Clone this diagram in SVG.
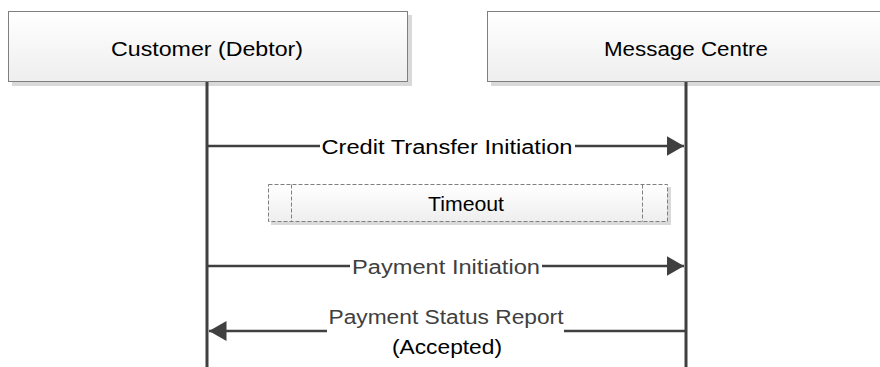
<svg xmlns="http://www.w3.org/2000/svg" width="880" height="367" viewBox="0 0 880 367">
<style>
.lbl{font-family:"Liberation Sans",Arial,sans-serif;text-anchor:middle;font-size:19.5px}
.box{stroke:#7f7f7f;stroke-width:1;fill:url(#g)}
.sh{fill:#d9d9d9}
.life{stroke:#404040;stroke-width:3;fill:none}
.msg{stroke:#404040;stroke-width:2.5;fill:none}
</style>
<defs>
<linearGradient id="g" x1="0" y1="0" x2="0" y2="1">
<stop offset="0" stop-color="#ffffff"/>
<stop offset="1" stop-color="#eeeeee"/>
</linearGradient>
<marker id="ah" markerWidth="8" markerHeight="8" refX="7" refY="4" orient="auto" markerUnits="strokeWidth">
<path d="M0,0 L7,4 L0,8 Z" fill="#404040"/>
</marker>
</defs>
<g id="node-customer">
<rect class="sh" x="12" y="15" width="400" height="71"/>
<rect class="box" x="8.5" y="11.5" width="399" height="70"/>
<text class="lbl" x="207" y="56" fill="#000" textLength="192" lengthAdjust="spacingAndGlyphs">Customer (Debtor)</text>
</g>
<g id="node-centre">
<rect class="sh" x="491" y="15" width="400" height="71"/>
<rect class="box" x="487.5" y="11.5" width="399" height="70"/>
<text class="lbl" x="686" y="56" fill="#000" textLength="164" lengthAdjust="spacingAndGlyphs">Message Centre</text>
</g>
<g id="node-timeout">
<rect class="sh" x="271" y="187" width="400" height="38"/>
<rect x="268.5" y="184.5" width="399" height="37" fill="url(#g)" stroke="#7f7f7f" stroke-dasharray="4,2"/>
<line x1="291.5" y1="184.5" x2="291.5" y2="221.5" stroke="#7f7f7f" stroke-dasharray="4,2"/>
<line x1="642.5" y1="184.5" x2="642.5" y2="221.5" stroke="#7f7f7f" stroke-dasharray="4,2"/>
<text class="lbl" x="466" y="211" fill="#000" textLength="76" lengthAdjust="spacingAndGlyphs">Timeout</text>
</g>
<g id="connectors">
<line class="life" x1="207" y1="82" x2="207" y2="367"/>
<line class="life" x1="686" y1="82" x2="686" y2="367"/>
<line class="msg" x1="207" y1="146" x2="320" y2="146"/>
<line class="msg" x1="575" y1="146" x2="684" y2="146" marker-end="url(#ah)"/>
<line class="msg" x1="207" y1="266" x2="350" y2="266"/>
<line class="msg" x1="542" y1="266" x2="684" y2="266" marker-end="url(#ah)"/>
<line class="msg" x1="686" y1="331" x2="564" y2="331"/>
<line class="msg" x1="327" y1="331" x2="209" y2="331" marker-end="url(#ah)"/>
<text class="lbl" x="447" y="154" fill="#000" textLength="251" lengthAdjust="spacingAndGlyphs">Credit Transfer Initiation</text>
<text class="lbl" x="446" y="274" fill="#404040" textLength="188" lengthAdjust="spacingAndGlyphs">Payment Initiation</text>
<text class="lbl" x="446" y="324" fill="#404040" textLength="235" lengthAdjust="spacingAndGlyphs">Payment Status Report</text>
<text class="lbl" x="447" y="354" fill="#000" textLength="110" lengthAdjust="spacingAndGlyphs">(Accepted)</text>
</g>
</svg>
